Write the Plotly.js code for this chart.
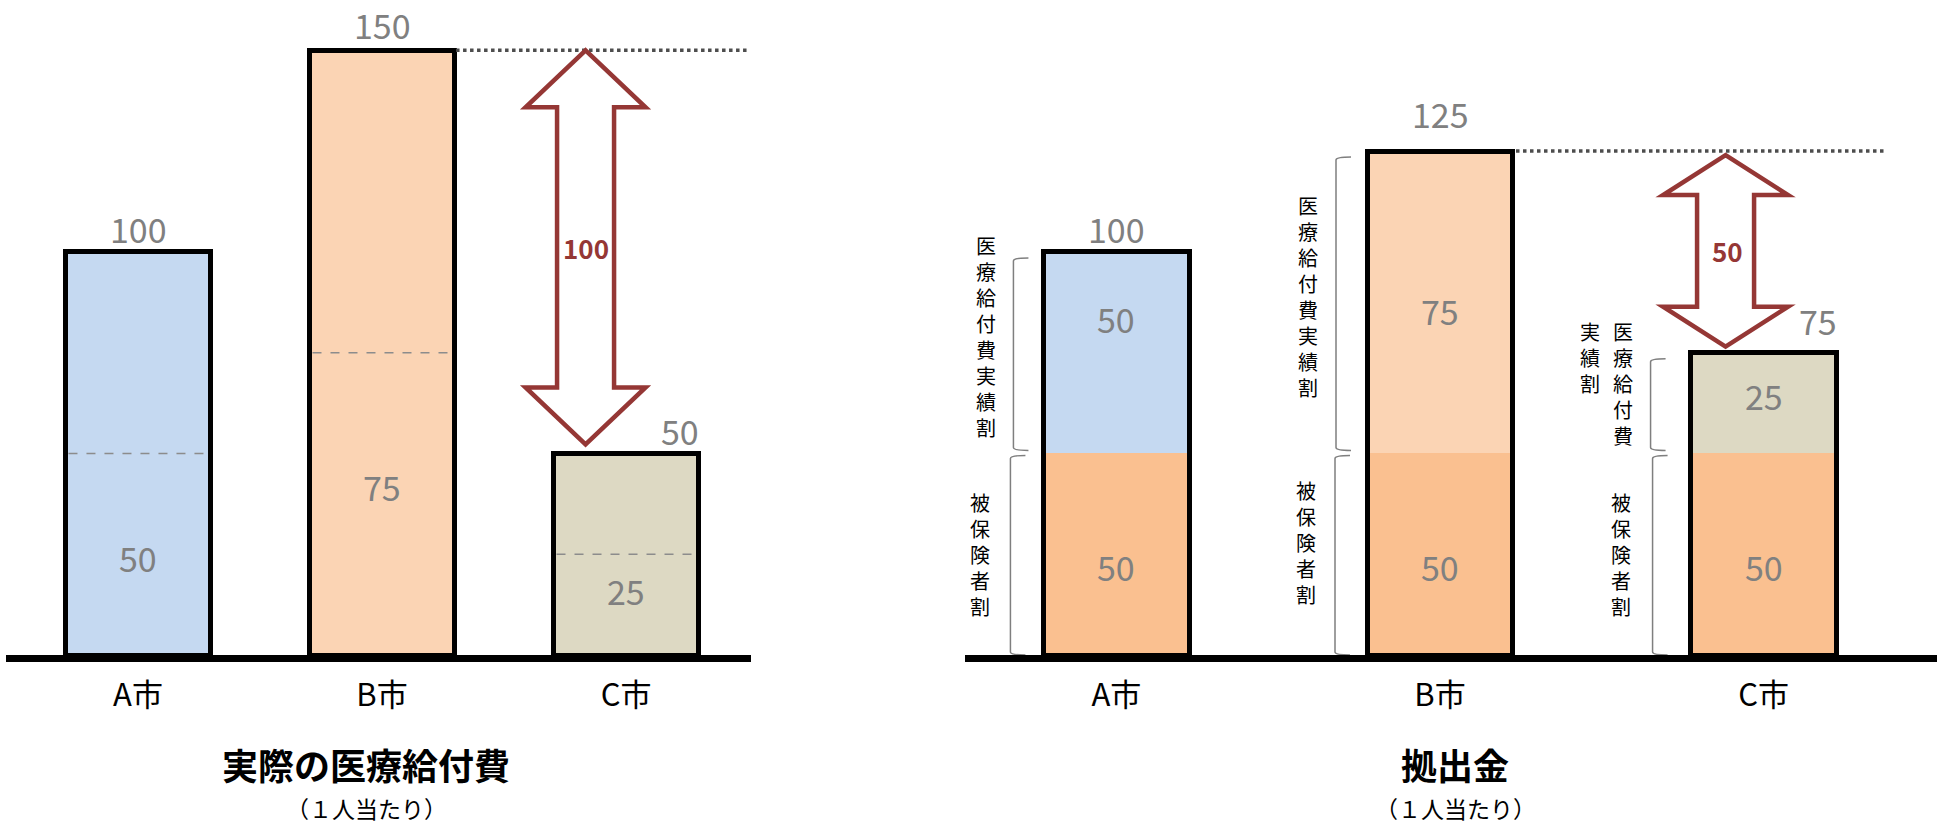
<!DOCTYPE html>
<html>
<head>
<meta charset="utf-8">
<script src="https://cdn.plot.ly/plotly-3.0.1.min.js"></script>
<style>
html,body{margin:0;padding:0;background:#fff;}
#chart{width:1937px;height:826px;}
</style>
</head>
<body>
<div id="chart"></div>
<script>
// ---------------- DATA ----------------
const cities = ['A市', 'B市', 'C市'];
// 実際の医療給付費（1人当たり）
const actualCost = [100, 150, 50];
const actualCostShare = [50, 75, 25];        // dashed divider / inner labels
// 拠出金（1人当たり）
const contribInsured = [50, 50, 50];         // 被保険者割
const contribBenefit = [50, 75, 25];         // 医療給付費実績割
const contribTotal = [100, 125, 75];
const upperLabel = '医療給付費実績割';
const lowerLabel = '被保険者割';
const leftTitle = '実際の医療給付費';
const rightTitle = '拠出金';
const subTitle = '（１人当たり）';

// ---------------- STYLE ----------------
const W = 1937, H = 826;
const FONT = "'Noto Sans CJK JP', 'Noto Sans', sans-serif";
const GRAY = '#808080';
const RED = '#953735';
const topColors = ['#C5D9F1', '#FBD4B4', '#DDD9C3'];
const bottomColor = '#FAC090';
const yMax = 160;
const yTopPx = 10, yZeroPx = 655;
const k = (yZeroPx - yTopPx) / yMax;       // px per unit
const u = px => px / k;                    // px -> data units

const leftW = 0.594, rightW = 0.451;

const shapes = [];
const annotations = [];

// baselines (paper y so they are not clipped)
const baseY = (H - 658.5) / H;
shapes.push({type:'line', xref:'x domain', x0:0, x1:1, yref:'paper', y0:baseY, y1:baseY,
  line:{color:'#000', width:7}, layer:'above'});
shapes.push({type:'line', xref:'x2 domain', x0:0, x1:1, yref:'paper', y0:baseY, y1:baseY,
  line:{color:'#000', width:7}, layer:'above'});

// left: dashed dividers
actualCostShare.forEach((v, i) => {
  shapes.push({type:'line', xref:'x', yref:'y', x0:i - leftW/2 + 0.012, x1:i + leftW/2 - 0.012,
    y0:v, y1:v, line:{color:'#8c8c8c', width:1.5, dash:'dash'}, layer:'above'});
});

// dotted reference lines
shapes.push({type:'line', xref:'x', xsizemode:'pixel', xanchor:1, x0:74, x1:367,
  yref:'y', y0:actualCost[1], y1:actualCost[1], line:{color:'#4d4d4d', width:3.5, dash:'dot'}});
shapes.push({type:'line', xref:'x2', xsizemode:'pixel', xanchor:1, x0:76, x1:444,
  yref:'y', y0:contribTotal[1], y1:contribTotal[1], line:{color:'#4d4d4d', width:3.5, dash:'dot'}});

// double-headed block arrows
function blockArrow(xref, anchor, cx, hh, sh, hlPx, top, bot) {
  const hl = u(hlPx);
  const p = [
    [cx, top], [cx + hh, top - hl], [cx + sh, top - hl], [cx + sh, bot + hl],
    [cx + hh, bot + hl], [cx, bot], [cx - hh, bot + hl], [cx - sh, bot + hl],
    [cx - sh, top - hl], [cx - hh, top - hl]
  ];
  const path = 'M' + p.map(q => q[0].toFixed(2) + ',' + q[1].toFixed(3)).join(' L') + ' Z';
  shapes.push({type:'path', xref:xref, xsizemode:'pixel', xanchor:anchor, yref:'y',
    path:path, fillcolor:'#fff', line:{color:RED, width:4.5}, layer:'above'});
}
const lTop = actualCost[1], lBot = actualCost[2] + u(9);
blockArrow('x', 2, -40.5, 60, 28.5, 57, lTop, lBot);
const rTop = contribTotal[1] - u(4), rBot = contribTotal[2] + u(6);
blockArrow('x2', 2, -38, 62.5, 28.5, 40, rTop, rBot);

annotations.push({xref:'x', x:2, xshift:-40.5, yref:'y', y:(lTop + lBot)/2, showarrow:false,
  text:String(actualCost[1] - actualCost[2]), font:{family:FONT, size:26, color:RED, weight:'bold'}});
annotations.push({xref:'x2', x:2, xshift:-36, yref:'y', y:(rTop + rBot)/2, showarrow:false,
  text:String(contribTotal[1] - contribTotal[2]), font:{family:FONT, size:26, color:RED, weight:'bold'}});

// value labels
const numFont = {family:FONT, size:34, color:GRAY};
const leftTopShift = [[0, 23], [0, 26], [54, 23]];
const leftInnerShift = [-3, 17, 14];
actualCost.forEach((v, i) => {
  annotations.push({xref:'x', x:i, xshift:leftTopShift[i][0], yref:'y', y:v, yshift:leftTopShift[i][1],
    showarrow:false, text:String(v), font:numFont});
  annotations.push({xref:'x', x:i, yref:'y', y:actualCostShare[i]/2, yshift:leftInnerShift[i],
    showarrow:false, text:String(actualCostShare[i]), font:numFont});
});
const rightTopShift = [[0, 23], [0, 38], [54, 32]];
const upperShift = [34, -8, 8];
contribTotal.forEach((v, i) => {
  annotations.push({xref:'x2', x:i, xshift:rightTopShift[i][0], yref:'y', y:v, yshift:rightTopShift[i][1],
    showarrow:false, text:String(v), font:numFont});
  annotations.push({xref:'x2', x:i, yref:'y', y:contribInsured[i]/2, yshift:-12,
    showarrow:false, text:String(contribInsured[i]), font:numFont});
  annotations.push({xref:'x2', x:i, yref:'y', y:contribInsured[i] + contribBenefit[i]/2, yshift:upperShift[i],
    showarrow:false, text:String(contribBenefit[i]), font:numFont});
});

// vertical Japanese labels (one column per annotation, chars stacked with <br>) + brackets
const vSize = 20, pitch = 1.3 * vSize, colGap = 33;
const colMax = [8, 8, 5];
const upperTextX = [-130, -132, -141];
const lowerTextX = [-136, -134, -143];
const upperTextShift = [16, 6, 20];
const lowerTextShift = [0, 12, 0];
const upperBracketX = [-103, -104, -113];
const lowerBracketX = [-106, -105, -111];
const vFont = {family:FONT, size:vSize, color:'#000'};

function verticalText(i, text, x0, yMid, yShift, maxRows) {
  const chars = Array.from(text);
  const rows = Math.min(chars.length, maxRows);
  for (let col = 0; col * maxRows < chars.length; col++) {
    const part = chars.slice(col * maxRows, (col + 1) * maxRows);
    annotations.push({xref:'x2', x:i, xshift:x0 - col * colGap, yref:'y', y:yMid,
      xanchor:'center', yanchor:'middle',
      yshift:yShift + (rows - part.length) / 2 * pitch, showarrow:false,
      text:part.join('<br>'), font:vFont});
  }
}
function bracket(i, bx, top, bot) {
  const c = u(3);
  const path = `M${bx + 15},${top} Q${bx},${top} ${bx},${top - c} L${bx},${bot + c} Q${bx},${bot} ${bx + 15},${bot}`;
  shapes.push({type:'path', xref:'x2', xsizemode:'pixel', xanchor:i, yref:'y', path:path,
    line:{color:'#7f7f7f', width:1.5}});
}
cities.forEach((c, i) => {
  const lo = contribInsured[i], tot = contribInsured[i] + contribBenefit[i];
  verticalText(i, upperLabel, upperTextX[i], (lo + tot)/2, upperTextShift[i], colMax[i]);
  verticalText(i, lowerLabel, lowerTextX[i], lo/2, lowerTextShift[i], 8);
  bracket(i, upperBracketX[i], tot - u(6), lo + u(3));
  bracket(i, lowerBracketX[i], lo - u(2), 0);
});

// titles
const titleFont = {family:FONT, size:36, color:'#000', weight:'bold'};
const subFont = {family:FONT, size:23, color:'#000'};
[[leftTitle, 366], [rightTitle, 1455]].forEach(([t, px]) => {
  annotations.push({xref:'paper', x:px/W, yref:'paper', y:1 - 764/H, xanchor:'center', yanchor:'middle',
    showarrow:false, text:t, font:titleFont});
  annotations.push({xref:'paper', x:px/W, yref:'paper', y:1 - 808/H, xanchor:'center', yanchor:'middle',
    showarrow:false, text:subTitle, font:subFont});
});

// ---------------- TRACES ----------------
const idx = [0, 1, 2];
const traces = [
  {type:'bar', x:idx, y:actualCost, xaxis:'x', yaxis:'y', width:leftW,
   marker:{color:topColors, line:{color:'#000', width:5}}, hoverinfo:'none', name:'実際の医療給付費'},
  {type:'bar', x:idx, y:contribInsured, xaxis:'x2', yaxis:'y', width:rightW,
   marker:{color:bottomColor, line:{width:0}}, hoverinfo:'none', name:lowerLabel},
  {type:'bar', x:idx, y:contribBenefit, xaxis:'x2', yaxis:'y', width:rightW,
   marker:{color:topColors, line:{width:0}}, hoverinfo:'none', name:upperLabel},
  {type:'bar', x:idx, y:contribTotal, xaxis:'x2', yaxis:'y3', width:rightW,
   marker:{color:'rgba(0,0,0,0)', line:{color:'#000', width:5}}, hoverinfo:'none', name:'拠出金'}
];

const xCommon = {tickvals:idx, ticktext:cities, ticks:'', showline:false, showgrid:false,
  zeroline:false, fixedrange:true, tickfont:{family:FONT, size:31, color:'#000'}, ticklabelstandoff:19};

const layout = {
  width:W, height:H, margin:{l:0, r:0, t:0, b:0}, paper_bgcolor:'#fff', plot_bgcolor:'rgba(0,0,0,0)',
  showlegend:false, barmode:'stack',
  xaxis:Object.assign({}, xCommon, {domain:[6/W, 751/W], range:[-0.541, 2.512], anchor:'y'}),
  xaxis2:Object.assign({}, xCommon, {domain:[965/W, 1], range:[-0.468, 2.536], anchor:'y'}),
  yaxis:{domain:[(H - yZeroPx)/H, (H - yTopPx)/H], range:[0, yMax], visible:false, fixedrange:true},
  yaxis3:{overlaying:'y', range:[0, yMax], visible:false, fixedrange:true, anchor:'x2'},
  shapes:shapes, annotations:annotations
};

Plotly.newPlot('chart', traces, layout, {displayModeBar:false, staticPlot:true});
</script>
</body>
</html>
